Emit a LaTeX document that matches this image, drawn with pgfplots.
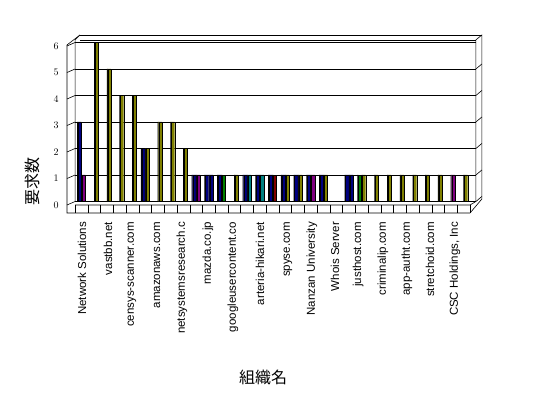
\documentclass[border=0pt]{standalone}
\usepackage{pgfplots}
\pgfplotsset{compat=1.18}
\usepackage{fontspec}
\setmainfont{Liberation Sans}
\newfontfamily\jp{Noto Sans CJK JP}
\definecolor{cnavy}{HTML}{000080}
\definecolor{cpurple}{HTML}{800080}
\definecolor{colive}{HTML}{808000}
\definecolor{cgreen}{HTML}{008000}
\definecolor{cteal}{HTML}{008080}
\definecolor{cred}{HTML}{800000}
\pgfplotsset{
  Lside/.style={ybar, bar width=1.0pt, bar shift=-3.9pt, fill=black, draw=none},
  Lface/.style={ybar, bar width=3.2pt, bar shift=-1.8pt, fill=#1, draw=black, line width=0.3pt},
  Rside/.style={ybar, bar width=1.0pt, bar shift=0.3pt, fill=black, draw=none},
  Rface/.style={ybar, bar width=3.2pt, bar shift=2.4pt, fill=#1, draw=black, line width=0.3pt},
}
\begin{document}
\begin{tikzpicture}[x=1pt,y=1pt]
\path[use as bounding box] (0,0) rectangle (548,398);
\begin{axis}[
  at={(75.1pt,196.5pt)}, anchor=south west,
  scale only axis, width=401.3pt, height=165.9pt,
  xmin=0.5, xmax=32, ymin=0, ymax=6.26,
  axis line style={draw=none},
  ytick={0,1,2,3,4,5,6},
  ymajorgrids, grid style={black, line width=0.6pt},
  major tick length=0pt,
  yticklabel style={font=\fontsize{10}{12}\selectfont, xshift=-13pt, yshift=-3.5pt},
  xtick={1.04,3.08,4.96,6.93,8.89,10.93,12.89,15.01,17.21,19.09,20.90,22.71,24.67,26.55,28.36,30.32},
  xticklabels={Network Solutions, vastbb.net, censys-scanner.com, amazonaws.com, netsystemsresearch.c, mazda.co.jp, googleusercontent.co, arteria-hikari.net, spyse.com, Nanzan University, Whois Server, justhost.com, criminalip.com, app-autht.com, stretchoid.com, {CSC Holdings, Inc}},
  xticklabel style={yshift=-17pt, rotate=90, anchor=east, font=\fontsize{11.5}{13}\selectfont},
  clip=false,
]
% frame
\draw[black, line width=0.6pt] (axis cs:0.882,6.283) -- (axis cs:32.43,6.283);
\draw[black, line width=0.6pt] (axis cs:0.882,6.1) -- (axis cs:31.96,6.1);
\draw[black, line width=0.6pt] (axis cs:-0.138,5.906) -- (axis cs:0.882,6.283);
\draw[black, line width=0.6pt] (axis cs:0.5,0) -- (axis cs:0.5,6.1) -- (axis cs:0.882,6.283);
\draw[black, line width=0.6pt] (axis cs:31.96,0) -- (axis cs:31.96,6.1) -- (axis cs:32.43,6.283) -- (axis cs:32.43,0.094);
\draw[black, line width=0.6pt] (axis cs:31.96,0) -- (axis cs:32.43,0.19);
\draw[black, line width=0.6pt] (axis cs:31.96,1) -- (axis cs:32.43,1.19);
\draw[black, line width=0.6pt] (axis cs:31.96,2) -- (axis cs:32.43,2.19);
\draw[black, line width=0.6pt] (axis cs:31.96,3) -- (axis cs:32.43,3.19);
\draw[black, line width=0.6pt] (axis cs:31.96,4) -- (axis cs:32.43,4.19);
\draw[black, line width=0.6pt] (axis cs:31.96,5) -- (axis cs:32.43,5.19);
\draw[black, line width=0.6pt] (axis cs:-0.138,5.906) -- (axis cs:-0.138,-0.434) -- (axis cs:31.5,-0.434) -- (axis cs:32.43,0.094);
\draw[black, line width=0.6pt] (axis cs:0.5,-0.132) -- (axis cs:31.5,-0.132) -- (axis cs:31.96,0);
\draw[black, line width=0.6pt] (axis cs:-0.138,-0.132) -- (axis cs:0.5,0);
\draw[black, line width=0.6pt] (axis cs:-0.138,0.868) -- (axis cs:0.5,1);
\draw[black, line width=0.6pt] (axis cs:-0.138,1.868) -- (axis cs:0.5,2);
\draw[black, line width=0.6pt] (axis cs:-0.138,2.868) -- (axis cs:0.5,3);
\draw[black, line width=0.6pt] (axis cs:-0.138,3.868) -- (axis cs:0.5,4);
\draw[black, line width=0.6pt] (axis cs:-0.138,4.868) -- (axis cs:0.5,5);
\draw[black, line width=0.6pt] (axis cs:-0.138,5.868) -- (axis cs:0.5,6);
\pgfplotsinvokeforeach{0.5,1.5,2.5,3.5,4.5,5.5,6.5,7.5,8.5,9.5,10.5,11.5,12.5,13.5,14.5,15.5,16.5,17.5,18.5,19.5,20.5,21.5,22.5,23.5,24.5,25.5,26.5,27.5,28.5,29.5,30.5,31.5}{
  \draw[black, line width=0.5pt] (axis cs:#1,-0.132) -- (axis cs:#1,-0.434);
}
% left slot
\addplot[Lside] coordinates {(1,3)(6,2)(10,1)(11,1)(12,1)(14,1)(15,1)(16,1)(17,1)(18,1)(19,1)(20,1)(22,1)(23,1)};
\addplot[Lface=cnavy] coordinates {(1,3)(6,2)(10,1)(11,1)(12,1)(14,1)(15,1)(16,1)(17,1)(18,1)(19,1)(20,1)(22,1)};
\addplot[Lface=cgreen] coordinates {(23,1)};
% right slot
\addplot[Rside] coordinates {(1,1)(2,6)(3,5)(4,4)(5,4)(6,2)(7,3)(8,3)(9,2)(10,1)(11,1)(12,1)(13,1)(14,1)(15,1)(16,1)(17,1)(18,1)(19,1)(20,1)(22,1)(23,1)(24,1)(25,1)(26,1)(27,1)(28,1)(29,1)(30,1)(31,1)};
\addplot[Rface=colive] coordinates {(2,6)(3,5)(4,4)(5,4)(6,2)(7,3)(8,3)(9,2)(13,1)(17,1)(18,1)(20,1)(23,1)(24,1)(25,1)(26,1)(27,1)(28,1)(29,1)(31,1)};
\addplot[Rface=cpurple] coordinates {(1,1)(10,1)(19,1)(30,1)};
\addplot[Rface=cnavy] coordinates {(11,1)(22,1)};
\addplot[Rface=cgreen] coordinates {(12,1)};
\addplot[Rface=cteal] coordinates {(14,1)(15,1)};
\addplot[Rface=cred] coordinates {(16,1)};
\end{axis}
\node[rotate=90, font=\jp\fontsize{16}{18}\selectfont] at (32,216) {要求数};
\node[font=\jp\fontsize{16}{18}\selectfont] at (263,21) {組織名};
\end{tikzpicture}
\end{document}
